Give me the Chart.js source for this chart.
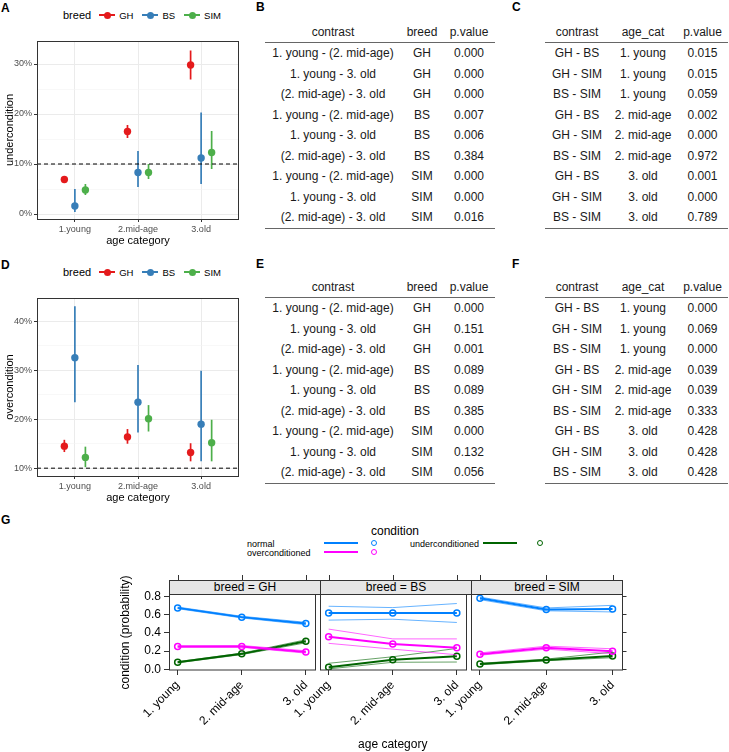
<!DOCTYPE html>
<html>
<head>
<meta charset="utf-8">
<script src="https://cdn.jsdelivr.net/npm/chart.js@4.4.1/dist/chart.umd.min.js"></script>
<style>
  body { margin: 0; background: #fff; font-family: "Liberation Sans", Arial, sans-serif; color: #000; }
  #page { position: relative; width: 729px; height: 752px; overflow: hidden; }
  #page canvas { position: absolute; }
  .tag { position: absolute; font-weight: bold; font-size: 12px; line-height: 12px; }
  .bleg { position: absolute; left: 63px; height: 14px; display: flex; align-items: center; font-size: 9.5px; }
  .bleg .ttl { font-size: 11px; margin-right: 8px; }
  .bleg .key { position: relative; width: 16px; height: 14px; margin-right: 4px; }
  .bleg .key i { position: absolute; left: 0; top: 6px; width: 16px; height: 1.7px; }
  .bleg .key b { position: absolute; left: 4.5px; top: 3.5px; width: 7px; height: 7px; border-radius: 50%; }
  .bleg .lab { margin-right: 9px; }
  .tbl { position: absolute; font-size: 12px; color: #1a1a1a; }
  .tbl .row { display: flex; height: 20.5px; line-height: 20.5px; }
  .tbl .row div { text-align: center; white-space: nowrap; }
  .tbl .head { border-bottom: 1px solid #666; height: 20px; line-height: 20px; }
  .tbl .last { border-bottom: 1px solid #666; }
  .strip { position: absolute; top: 580px; height: 15px; background: #e6e6e6; border: 1px solid #333;
           box-sizing: border-box; font-size: 12px; line-height: 13px; text-align: center; }
  .gl { position: absolute; font-size: 9px; line-height: 10px; color: #000; }
  .gline { position: absolute; height: 2px; }
  .gdot { position: absolute; width: 4px; height: 4px; border-radius: 50%; border: 1.2px solid; }
</style>
</head>
<body>
<div id="page">
  <div class="tag" style="left:1px;top:2px">A</div>
  <div class="tag" style="left:256px;top:1px">B</div>
  <div class="tag" style="left:512px;top:1px">C</div>
  <div class="tag" style="left:1px;top:259px">D</div>
  <div class="tag" style="left:256px;top:258px">E</div>
  <div class="tag" style="left:512px;top:258px">F</div>
  <div class="tag" style="left:1px;top:514px">G</div>

  <div class="bleg" id="legA" style="top:8px"></div>
  <div class="bleg" id="legD" style="top:265px"></div>
  <canvas id="chartA" width="243" height="252" style="left:0;top:0"></canvas>
  <canvas id="chartD" width="243" height="252" style="left:0;top:257px"></canvas>

  <div class="tbl" id="tabB" style="left:265px;top:22px"></div>
  <div class="tbl" id="tabC" style="left:545px;top:22px"></div>
  <div class="tbl" id="tabE" style="left:265px;top:277px"></div>
  <div class="tbl" id="tabF" style="left:545px;top:277px"></div>

  <div id="legG"></div>
  <canvas id="gGH" width="206" height="182" style="left:114px;top:570px"></canvas>
  <canvas id="gBS" width="221" height="182" style="left:250px;top:570px"></canvas>
  <canvas id="gSIM" width="226" height="182" style="left:401px;top:570px"></canvas>
  <div class="strip" style="left:169px;width:152px">breed = GH</div>
  <div class="strip" style="left:320px;width:152px">breed = BS</div>
  <div class="strip" style="left:471px;width:152px">breed = SIM</div>
</div>

<script>
// ---- panels A / D : estimated marginal means with 95% intervals (%)
const ageCats = ["1.young", "2.mid-age", "3.old"];
const breeds = ["GH", "BS", "SIM"];
const breedColors = ["#E41A1C", "#377EB8", "#4DAF4A"];
const threshold = 10;

const underGH = [6.9, 16.5, 29.8];
const underGHLo = [6.4, 15.2, 26.9];
const underGHHi = [7.4, 17.8, 32.7];
const underBS = [1.6, 8.3, 11.2];
const underBSLo = [0.4, 5.4, 6.0];
const underBSHi = [5.0, 12.6, 20.3];
const underSIM = [4.8, 8.3, 12.3];
const underSIMLo = [3.8, 7.0, 9.0];
const underSIMHi = [6.0, 10.0, 16.6];

const overGH = [14.5, 16.4, 13.2];
const overGHLo = [13.3, 15.0, 11.4];
const overGHHi = [15.8, 18.0, 15.1];
const overBS = [32.6, 23.5, 19.0];
const overBSLo = [23.5, 17.3, 11.4];
const overBSHi = [43.1, 31.1, 29.9];
const overSIM = [12.2, 20.1, 15.2];
const overSIMLo = [10.2, 17.5, 11.4];
const overSIMHi = [14.4, 22.9, 19.9];

// ---- tables B, C, E, F
const contrastAge = ["1. young - (2. mid-age)", "1. young - 3. old", "(2. mid-age) - 3. old",
  "1. young - (2. mid-age)", "1. young - 3. old", "(2. mid-age) - 3. old",
  "1. young - (2. mid-age)", "1. young - 3. old", "(2. mid-age) - 3. old"];
const breedCol = ["GH", "GH", "GH", "BS", "BS", "BS", "SIM", "SIM", "SIM"];
const contrastBreed = ["GH - BS", "GH - SIM", "BS - SIM", "GH - BS", "GH - SIM", "BS - SIM",
  "GH - BS", "GH - SIM", "BS - SIM"];
const ageCol = ["1. young", "1. young", "1. young", "2. mid-age", "2. mid-age", "2. mid-age",
  "3. old", "3. old", "3. old"];
const pB = ["0.000", "0.000", "0.000", "0.007", "0.006", "0.384", "0.000", "0.000", "0.016"];
const pC = ["0.015", "0.015", "0.059", "0.002", "0.000", "0.972", "0.001", "0.000", "0.789"];
const pE = ["0.000", "0.151", "0.001", "0.089", "0.089", "0.385", "0.000", "0.132", "0.056"];
const pF = ["0.000", "0.069", "0.000", "0.039", "0.039", "0.333", "0.428", "0.428", "0.428"];

// ---- panel G : predicted probabilities, rows = normal / overconditioned / underconditioned
const gAgeCats = ["1. young", "2. mid-age", "3. old"];
const conditions = ["normal", "overconditioned", "underconditioned"];
const condColors = ["#0080ff", "#ff00ff", "#006400"];
const ghMean = [[0.677, 0.575, 0.505], [0.250, 0.252, 0.190], [0.077, 0.170, 0.308]];
const ghLo   = [[0.668, 0.566, 0.492], [0.242, 0.242, 0.178], [0.071, 0.162, 0.292]];
const ghHi   = [[0.686, 0.584, 0.518], [0.258, 0.262, 0.204], [0.084, 0.178, 0.325]];
const bsMean = [[0.620, 0.620, 0.620], [0.358, 0.278, 0.237], [0.022, 0.105, 0.143]];
const bsLo   = [[0.542, 0.552, 0.516], [0.286, 0.222, 0.160], [0.004, 0.077, 0.080]];
const bsHi   = [[0.695, 0.680, 0.725], [0.443, 0.335, 0.335], [0.066, 0.138, 0.230]];
const simMean = [[0.782, 0.660, 0.666], [0.166, 0.237, 0.200], [0.058, 0.102, 0.146]];
const simLo   = [[0.768, 0.645, 0.632], [0.155, 0.222, 0.172], [0.050, 0.094, 0.128]];
const simHi   = [[0.796, 0.676, 0.705], [0.180, 0.255, 0.226], [0.066, 0.112, 0.190]];

Chart.defaults.font.family = '"Liberation Sans", Arial, sans-serif';
Chart.defaults.animation = false;

// legends for A and D
["legA", "legD"].forEach(id => {
  const el = document.getElementById(id);
  let html = '<span class="ttl">breed</span>';
  breeds.forEach((b, i) => {
    html += '<span class="key"><i style="background:' + breedColors[i] + '"></i><b style="background:' +
      breedColors[i] + '"></b></span><span class="lab">' + b + '</span>';
  });
  el.innerHTML = html;
});

// ggplot-ish helpers
const panelBox = {
  id: "panelBox",
  afterDraw(chart, args, opts) {
    const a = chart.chartArea, ctx = chart.ctx;
    ctx.save();
    ctx.strokeStyle = opts.color || "#333";
    ctx.lineWidth = 1;
    ctx.strokeRect(Math.round(a.left) + 0.5, Math.round(a.top) + 0.5,
      Math.round(a.right - a.left) - 1, Math.round(a.bottom - a.top));
    ctx.restore();
  }
};

const refLine = {
  id: "refLine",
  beforeDatasetsDraw(chart, args, opts) {
    if (opts.value === undefined) return;
    const a = chart.chartArea, ctx = chart.ctx;
    const y = chart.scales.y.getPixelForValue(opts.value);
    ctx.save();
    ctx.strokeStyle = "#000";
    ctx.lineWidth = 1;
    ctx.setLineDash([4, 3]);
    ctx.beginPath();
    ctx.moveTo(a.left, y);
    ctx.lineTo(a.right, y);
    ctx.stroke();
    ctx.restore();
  }
};

const errorBars = {
  id: "errorBars",
  beforeDatasetsDraw(chart) {
    const ctx = chart.ctx, ys = chart.scales.y;
    chart.data.datasets.forEach((ds, di) => {
      if (!ds.lo) return;
      const meta = chart.getDatasetMeta(di);
      ctx.save();
      ctx.strokeStyle = ds.borderColor;
      ctx.lineWidth = 1.7;
      meta.data.forEach((pt, i) => {
        ctx.beginPath();
        ctx.moveTo(pt.x, ys.getPixelForValue(ds.lo[i]));
        ctx.lineTo(pt.x, ys.getPixelForValue(ds.hi[i]));
        ctx.stroke();
      });
      ctx.restore();
    });
  }
};

function dotChart(id, means, los, his, yMin, yMax, yTitle) {
  const dodge = 0.5 / 3;
  const datasets = breeds.map((b, k) => ({
    type: "scatter",
    label: b,
    data: means[k].map((v, i) => ({ x: i + 1 + (k - 1) * dodge, y: v })),
    lo: los[k],
    hi: his[k],
    borderColor: breedColors[k],
    backgroundColor: breedColors[k],
    pointRadius: 3.7,
    pointBorderWidth: 0
  }));
  new Chart(document.getElementById(id), {
    type: "scatter",
    data: { datasets },
    plugins: [errorBars, refLine, panelBox],
    options: {
      responsive: false,
      layout: { padding: { top: 41, right: 2, left: 0, bottom: 0 } },
      plugins: { legend: { display: false }, tooltip: { enabled: false },
                 refLine: { value: threshold }, panelBox: { color: "#333" } },
      scales: {
        x: {
          type: "linear", min: 0.4, max: 3.6,
          afterBuildTicks: s => { s.ticks = ageCats.map((c, i) => ({ value: i + 1 })); },
          afterFit: s => { s.height = 33; },
          ticks: { callback: v => ageCats[v - 1], color: "#4d4d4d", font: { size: 9 }, padding: 2,
                   maxRotation: 0, autoSkip: false },
          grid: { color: "#ebebeb", tickColor: "#333", tickLength: 3, lineWidth: 1 },
          border: { display: false },
          title: { display: true, text: "age category", color: "#000", font: { size: 11 },
                   padding: { top: 0, bottom: 4 } }
        },
        y: {
          min: yMin, max: yMax,
          afterBuildTicks: s => {
            const t = [];
            for (let v = Math.ceil(yMin / 5) * 5; v <= yMax; v += 5) t.push({ value: v });
            s.ticks = t;
          },
          afterFit: s => { s.width = 37; },
          ticks: { callback: v => (v % 10 === 0 ? v + "%" : ""), color: "#4d4d4d", font: { size: 9 }, padding: 2 },
          grid: {
            color: c => (c.tick && c.tick.value % 10 === 0 ? "#ebebeb" : "#f4f4f4"),
            lineWidth: c => (c.tick && c.tick.value % 10 === 0 ? 1 : 0.6),
            tickColor: c => (c.tick && c.tick.value % 10 === 0 ? "#333" : "rgba(0,0,0,0)"),
            tickLength: 3
          },
          border: { display: false },
          title: { display: true, text: yTitle, color: "#000", font: { size: 11 }, padding: { top: 3, bottom: 0 } }
        }
      }
    }
  });
}

dotChart("chartA", [underGH, underBS, underSIM], [underGHLo, underBSLo, underSIMLo],
  [underGHHi, underBSHi, underSIMHi], -1.0, 34.6, "undercondition");
dotChart("chartD", [overGH, overBS, overSIM], [overGHLo, overBSLo, overSIMLo],
  [overGHHi, overBSHi, overSIMHi], 8.4, 44.8, "overcondition");

// tables
function buildTable(id, headers, widths, cols) {
  const el = document.getElementById(id);
  let html = '<div class="row head">' + headers.map((h, j) =>
    '<div style="width:' + widths[j] + 'px">' + h + '</div>').join("") + '</div>';
  cols[0].forEach((_, i) => {
    html += '<div class="row' + (i === cols[0].length - 1 ? ' last' : '') + '">' +
      cols.map((c, j) => '<div style="width:' + widths[j] + 'px">' + c[i] + '</div>').join("") + '</div>';
  });
  el.innerHTML = html;
}
buildTable("tabB", ["contrast", "breed", "p.value"], [136, 42, 52], [contrastAge, breedCol, pB]);
buildTable("tabC", ["contrast", "age_cat", "p.value"], [64, 68, 51], [contrastBreed, ageCol, pC]);
buildTable("tabE", ["contrast", "breed", "p.value"], [136, 42, 52], [contrastAge, breedCol, pE]);
buildTable("tabF", ["contrast", "age_cat", "p.value"], [64, 68, 51], [contrastBreed, ageCol, pF]);

// legend for G (lattice key)
(function () {
  const el = document.getElementById("legG");
  const keyPos = [[247, 539, 324, 374], [247, 548, 324, 374], [410, 539, 483, 540]];
  let html = '<div style="position:absolute;left:345px;width:100px;top:524px;text-align:center;font-size:12px;line-height:14px">condition</div>';
  conditions.forEach((c, i) => {
    const [tx, ty, lx, cx] = keyPos[i];
    html += '<div class="gl" style="left:' + tx + 'px;top:' + ty + 'px">' + c + '</div>';
    html += '<div class="gline" style="left:' + lx + 'px;top:' + (ty + 3) + 'px;width:34px;background:' + condColors[i] + '"></div>';
    html += '<div class="gdot" style="left:' + (cx - 3) + 'px;top:' + (ty + 1) + 'px;border-color:' + condColors[i] + '"></div>';
  });
  el.innerHTML = html;
})();

// panel G
const latticeExtras = {
  id: "latticeExtras",
  afterDraw(chart) {
    const a = chart.chartArea, ctx = chart.ctx, xs = chart.scales.x;
    ctx.save();
    ctx.strokeStyle = "#333";
    ctx.lineWidth = 1;
    ctx.strokeRect(Math.round(a.left) + 0.5, Math.round(a.top) - 0.5,
      Math.round(a.right - a.left), Math.round(a.bottom - a.top) + 0.5);
    xs.ticks.forEach(t => {
      const x = Math.round(xs.getPixelForValue(t.value)) + 0.5;
      ctx.beginPath();
      ctx.moveTo(x, a.top - 20);
      ctx.lineTo(x, a.top - 15);
      ctx.stroke();
    });
    ctx.restore();
  }
};

function gPanel(id, mean, lo, hi, side) {
  const datasets = [];
  conditions.forEach((c, k) => {
    [lo[k], hi[k]].forEach(band => datasets.push({
      data: band.map((v, i) => ({ x: i + 1, y: v })),
      borderColor: condColors[k] + "99", borderWidth: 1, pointRadius: 0
    }));
    datasets.push({
      label: c,
      data: mean[k].map((v, i) => ({ x: i + 1, y: v })),
      borderColor: condColors[k], borderWidth: 2,
      pointRadius: 3, pointBorderWidth: 1.5, pointBackgroundColor: "rgba(255,255,255,0)",
      pointBorderColor: condColors[k]
    });
  });
  const yAxis = {
    min: -0.008, max: 0.819,
    afterBuildTicks: s => { s.ticks = [0, 0.2, 0.4, 0.6, 0.8].map(v => ({ value: v })); },
    grid: { drawOnChartArea: false, tickLength: 5, tickColor: "#333" },
    border: { display: false }
  };
  if (side === "left") {
    yAxis.position = "left";
    yAxis.afterFit = s => { s.width = 55; };
    yAxis.ticks = { callback: v => v.toFixed(1), color: "#000", font: { size: 12 }, padding: 3 };
    yAxis.title = { display: true, text: "condition (probability)", color: "#000", font: { size: 12 },
                    padding: { top: 4, bottom: 0 } };
  } else if (side === "right") {
    yAxis.position = "right";
    yAxis.afterFit = s => { s.width = 5; };
    yAxis.ticks = { display: false };
  } else {
    yAxis.display = false;
  }
  new Chart(document.getElementById(id), {
    type: "line",
    data: { datasets },
    plugins: [latticeExtras],
    options: {
      responsive: false,
      layout: { padding: { top: 25, left: side === "left" ? 0 : 70, right: 0, bottom: 0 } },
      plugins: { legend: { display: false }, tooltip: { enabled: false } },
      scales: {
        x: {
          type: "linear", min: 0.865, max: 3.135,
          afterBuildTicks: s => { s.ticks = gAgeCats.map((c, i) => ({ value: i + 1 })); },
          afterFit: s => { s.height = 82; s.paddingLeft = 0; s.paddingRight = 0; },
          ticks: { callback: v => gAgeCats[v - 1], color: "#000", font: { size: 12 }, padding: 3,
                   minRotation: 45, maxRotation: 45, autoSkip: false },
          grid: { drawOnChartArea: false, tickLength: 5, tickColor: "#333" },
          border: { display: false },
          title: { display: side === "mid", text: "age category", color: "#000", font: { size: 12 },
                   padding: { top: 0, bottom: 0 } }
        },
        y: yAxis
      }
    }
  });
}

gPanel("gGH", ghMean, ghLo, ghHi, "left");
gPanel("gBS", bsMean, bsLo, bsHi, "mid");
gPanel("gSIM", simMean, simLo, simHi, "right");
</script>
</body>
</html>
